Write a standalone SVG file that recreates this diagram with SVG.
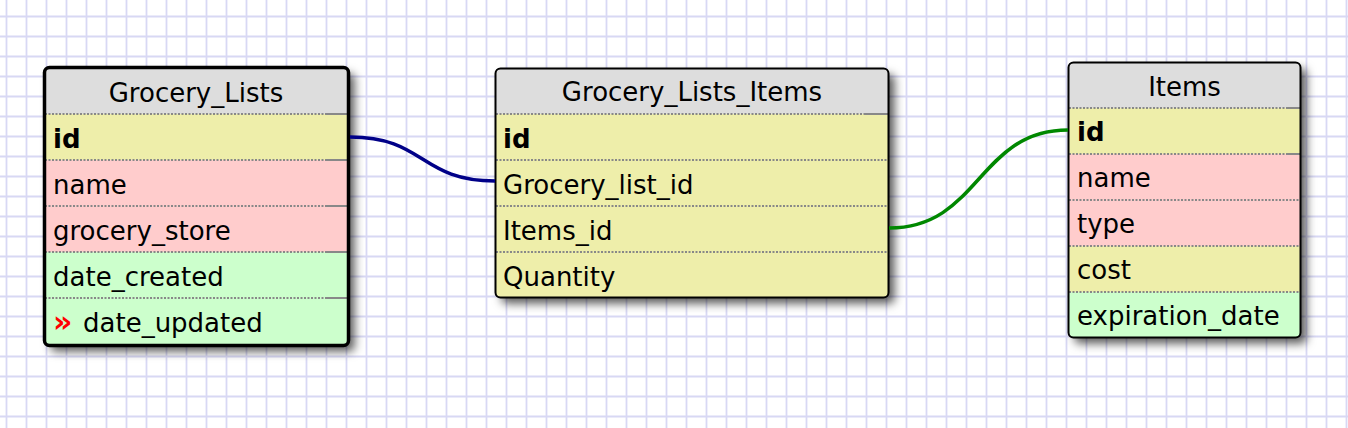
<svg xmlns="http://www.w3.org/2000/svg" width="1348" height="428" viewBox="0 0 1348 428">
<defs>
<pattern id="grid" x="0" y="0" width="20" height="20" patternUnits="userSpaceOnUse">
<path d="M6.5 0V20M0 16.5H20" stroke="#d8d8f4" stroke-width="1.8" fill="none"/>
</pattern>
<filter id="shadow" x="-10%" y="-10%" width="130%" height="130%">
<feDropShadow dx="6" dy="6" stdDeviation="5" flood-color="#000" flood-opacity="0.65"/>
</filter>
<clipPath id="c1"><rect x="44.5" y="67.5" width="304" height="278" rx="5"/></clipPath>
<clipPath id="c2"><rect x="495.5" y="68.5" width="393" height="229" rx="5"/></clipPath>
<clipPath id="c3"><rect x="1068.5" y="62.5" width="232" height="275" rx="5"/></clipPath>
</defs>
<style>
text{font-family:"DejaVu Sans","Verdana",sans-serif;font-size:26px;fill:#000}
.h{text-anchor:middle}
.b{font-weight:bold}
.hd{fill:#dddddd}
.y{fill:#eeeeaa}
.p{fill:#ffcccc}
.g{fill:#ccffcc}
.sep{stroke:#888;stroke-width:2;stroke-dasharray:2 1.5;fill:none}
.sol{stroke:#888;stroke-width:2;fill:none}
.bd{fill:none;stroke:#000}
.conn{fill:none;stroke-width:3.5}
</style>
<rect width="1348" height="428" fill="#fff"/>
<rect width="1348" height="428" fill="url(#grid)"/>

<g id="grocery_lists">
<rect x="44.5" y="67.5" width="304" height="278" rx="5" fill="#ddd" filter="url(#shadow)"/>
<g clip-path="url(#c1)">
<rect class="hd" x="44" y="67" width="305" height="47"/>
<rect class="y" x="44" y="114" width="305" height="46"/>
<rect class="p" x="44" y="160" width="305" height="46"/>
<rect class="p" x="44" y="206" width="305" height="46"/>
<rect class="g" x="44" y="252" width="305" height="46"/>
<rect class="g" x="44" y="298" width="305" height="48"/>
</g>
<path class="sep" d="M45 114H327M45 160H327M45 206H327M45 252H327M45 298H327"/>
<path class="sol" d="M327 114H348M327 160H348M327 206H348M327 252H348M327 298H348"/>
<rect class="bd" x="44.5" y="67.5" width="304" height="278" rx="5" stroke-width="3.5"/>
<text class="h" x="196" y="102">Grocery_Lists</text>
<text class="b" x="53" y="148">id</text>
<text x="53" y="194">name</text>
<text x="53" y="240">grocery_store</text>
<text x="53" y="286">date_created</text>
<text x="53" y="332" fill="#ff0000" style="fill:#ff0000;font-weight:bold;font-size:30px">»</text>
<text x="83" y="332">date_updated</text>
</g>

<g id="grocery_lists_items">
<rect x="495.5" y="68.5" width="393" height="229" rx="5" fill="#ddd" filter="url(#shadow)"/>
<g clip-path="url(#c2)">
<rect class="hd" x="495" y="68" width="394" height="46"/>
<rect class="y" x="495" y="114" width="394" height="46"/>
<rect class="y" x="495" y="160" width="394" height="46"/>
<rect class="y" x="495" y="206" width="394" height="46"/>
<rect class="y" x="495" y="252" width="394" height="46"/>
</g>
<path class="sep" d="M496 114H865M496 160H888M496 206H888M496 252H888"/>
<path class="sol" d="M865 114H888"/>
<rect class="bd" x="495.5" y="68.5" width="393" height="229" rx="5" stroke-width="2"/>
<text class="h" x="692" y="101">Grocery_Lists_Items</text>
<text class="b" x="503" y="148">id</text>
<text x="503" y="194">Grocery_list_id</text>
<text x="503" y="240">Items_id</text>
<text x="503" y="286">Quantity</text>
</g>

<g id="items">
<rect x="1068.5" y="62.5" width="232" height="275" rx="5" fill="#ddd" filter="url(#shadow)"/>
<g clip-path="url(#c3)">
<rect class="hd" x="1068" y="62" width="233" height="46"/>
<rect class="y" x="1068" y="108" width="233" height="46"/>
<rect class="p" x="1068" y="154" width="233" height="46"/>
<rect class="p" x="1068" y="200" width="233" height="46"/>
<rect class="y" x="1068" y="246" width="233" height="46"/>
<rect class="g" x="1068" y="292" width="233" height="46"/>
</g>
<path class="sep" d="M1069 108H1287M1069 154H1287M1069 200H1300M1069 246H1300M1069 292H1300"/>
<path class="sol" d="M1287 108H1300M1287 154H1300"/>
<rect class="bd" x="1068.5" y="62.5" width="232" height="275" rx="5" stroke-width="2"/>
<text class="h" x="1184.5" y="96">Items</text>
<text class="b" x="1077" y="141">id</text>
<text x="1077" y="187">name</text>
<text x="1077" y="233">type</text>
<text x="1077" y="279">cost</text>
<text x="1077" y="325">expiration_date</text>
</g>

<g id="connectors">
<path class="conn" stroke="#000088" d="M350 137C425 137 420 181 495 181"/>
<path class="conn" stroke="#008800" d="M889 228C980 228 978 130 1068 130"/>
</g>
</svg>
